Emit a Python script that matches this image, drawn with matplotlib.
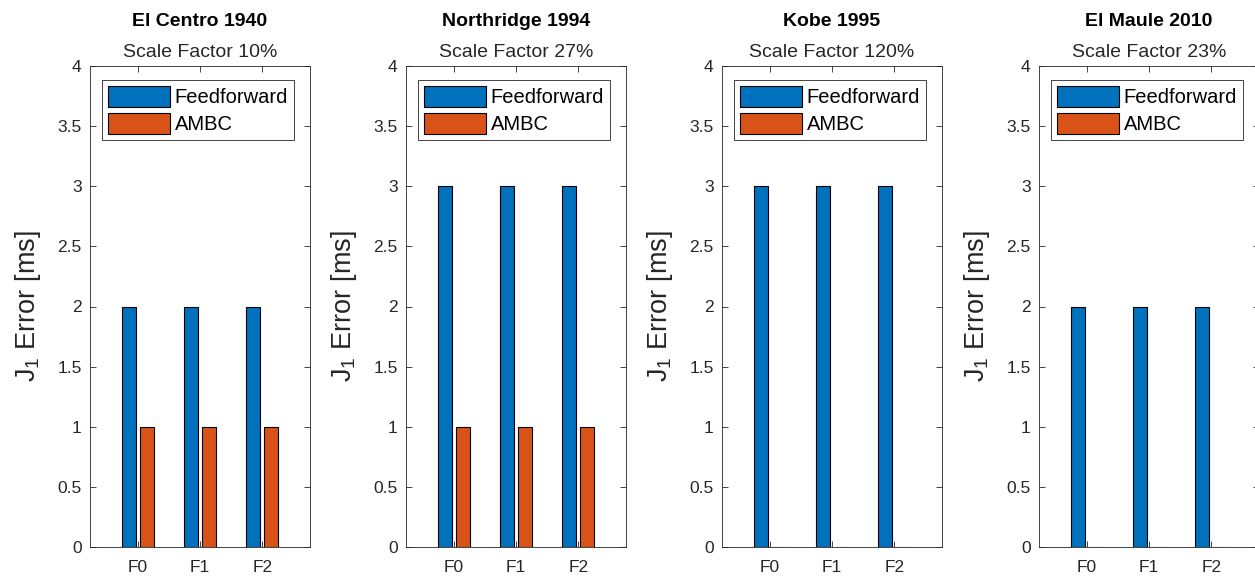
import matplotlib
matplotlib.use("Agg")
import matplotlib.pyplot as plt
import numpy as np

plt.rcParams['font.family'] = ['Liberation Sans', 'DejaVu Sans']
plt.rcParams['mathtext.fontset'] = 'custom'
plt.rcParams['mathtext.rm'] = 'Liberation Sans'
plt.rcParams['mathtext.it'] = 'Liberation Sans'

# Data
categories = ['F0', 'F1', 'F2']
records = ['El Centro 1940', 'Northridge 1994', 'Kobe 1995', 'El Maule 2010']
scale_factors = ['10%', '27%', '120%', '23%']
feedforward = [
    [2, 2, 2],
    [3, 3, 3],
    [3, 3, 3],
    [2, 2, 2],
]
ambc = [
    [1, 1, 1],
    [1, 1, 1],
    [0, 0, 0],
    [0, 0, 0],
]
series_names = ['Feedforward', 'AMBC']
yticks = [0, 0.5, 1, 1.5, 2, 2.5, 3, 3.5, 4]

BLUE = '#0072BD'
ORANGE = '#D95319'
AXC = '#262626'

W, H = 1255, 577
fig = plt.figure(figsize=(W / 100, H / 100), dpi=100)

lefts_px = [90, 406, 722, 1039]
ax_w_px, top_px, bot_px = 220, 66, 547

x = np.arange(1, len(categories) + 1)
bw = 0.225
off = 0.143

for i, name in enumerate(records):
    ax = fig.add_axes([lefts_px[i] / W, (H - bot_px) / H,
                       ax_w_px / W, (bot_px - top_px) / H])
    ax.bar(x - off, feedforward[i], bw, color=BLUE, edgecolor='black',
           linewidth=0.8, label=series_names[0])
    ax.bar(x + off, ambc[i], bw, color=ORANGE, edgecolor='black',
           linewidth=0.8, label=series_names[1])
    ax.set_xlim(0.234, 3.766)
    ax.set_ylim(0, 4)
    ax.set_xticks(x)
    ax.set_xticklabels(categories)
    ax.set_yticks(yticks)
    ax.set_yticklabels([f'{v:g}' for v in yticks])
    ax.tick_params(direction='in', top=True, right=True, length=4,
                   width=0.6, colors=AXC, labelsize=12.5, pad=6)
    ax.tick_params(axis='x', pad=9)
    for s in ax.spines.values():
        s.set_color(AXC)
        s.set_linewidth(0.6)
    ax.set_ylabel(r'J$_{\mathrm{1}}$ Error [ms]', fontsize=19.5, color=AXC,
                  labelpad=10)
    ax.text(0.5, 1.0 + 40 / 481, name, transform=ax.transAxes, ha='center',
            va='baseline', fontsize=14, fontweight='bold', color='black')
    ax.text(0.5, 1.0 + 9 / 481, f'Scale Factor {scale_factors[i]}',
            transform=ax.transAxes, ha='center', va='baseline', fontsize=14,
            color=AXC)
    leg = ax.legend(loc='upper left', bbox_to_anchor=(12 / 220, 1 - 14 / 481),
                    fontsize=14.5, frameon=True, fancybox=False, framealpha=1,
                    edgecolor=AXC, handlelength=3.1, handleheight=1.2,
                    handletextpad=0.2, borderpad=0.3, labelspacing=0.3,
                    borderaxespad=0)
    leg.get_frame().set_linewidth(0.6)

fig.savefig('out.png', dpi=100)
